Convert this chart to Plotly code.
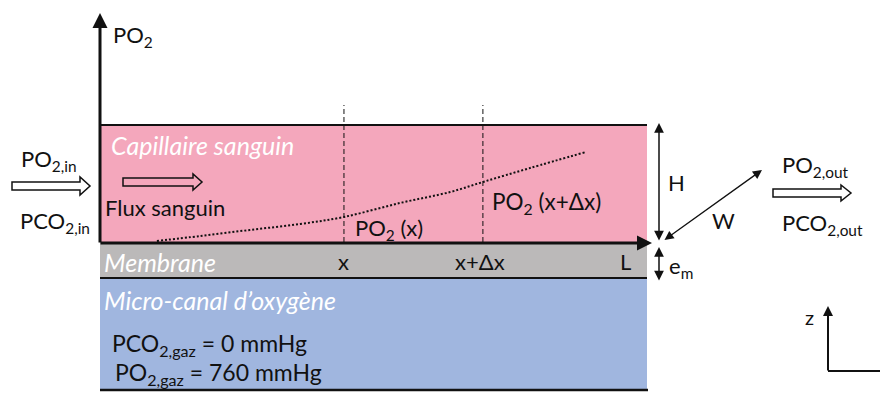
import plotly.graph_objects as go

# ---- data: PO2 profile along the capillary (x/L, PO2 normalised to capillary height H)
pos_frac = [0.104, 0.183, 0.274, 0.366, 0.446, 0.548, 0.640, 0.700, 0.786, 0.888]
po2_norm = [0.009, 0.051, 0.103, 0.154, 0.214, 0.333, 0.427, 0.513, 0.632, 0.769]
marker_pos = [0.446, 0.700]          # x and x+dx
tick_labels = ["x", "x+Δx", "L"]
tick_pos = [0.446, 0.695, 0.961]

PINK = "#F4A7BC"
GRAY = "#BBB9B9"
BLUE = "#A0B6DF"
INK = "#111111"
FONT = "Lato"

# page has an 8px body margin: the figure sits at (8,8) in the 888x394 window
OFF = 8
W, Hh = 888, 394
FW, FH = W - OFF, Hh - OFF
X0, X1 = 100, 647          # channel left / right (px, window coords)
YT, YB = 125, 242          # capillary top / bottom

fig = go.Figure()

fig.add_trace(go.Scatter(x=pos_frac, y=po2_norm, mode="lines", xaxis="x2", yaxis="y2",
                         line=dict(color=INK, width=2, dash="2px,2px", shape="spline"),
                         hoverinfo="skip", showlegend=False))
for p in marker_pos:
    fig.add_trace(go.Scatter(x=[p, p], y=[0, 1.171], mode="lines", xaxis="x2", yaxis="y2",
                             line=dict(color=INK, width=1, dash="5px,3px"),
                             hoverinfo="skip", showlegend=False))

shapes = []
shapes.append(dict(type="rect", xref="x", yref="y", x0=X0, x1=X1, y0=YT, y1=YB,
                   fillcolor=PINK, line=dict(width=0), layer="below"))
shapes.append(dict(type="rect", xref="x", yref="y", x0=X0, x1=X1, y0=YB, y1=278,
                   fillcolor=GRAY, line=dict(width=0), layer="below"))
shapes.append(dict(type="rect", xref="x", yref="y", x0=X0, x1=X1, y0=278, y1=390,
                   fillcolor=BLUE, line=dict(width=0), layer="below"))
shapes.append(dict(type="line", xref="x", yref="y", x0=X0, x1=X1, y0=YT, y1=YT,
                   line=dict(color=INK, width=2)))
shapes.append(dict(type="line", xref="x", yref="y", x0=X0, x1=X1, y0=278, y1=278,
                   line=dict(color=INK, width=2)))
shapes.append(dict(type="line", xref="x", yref="y", x0=X0, x1=X1 + 1, y0=390, y1=390,
                   line=dict(color=INK, width=2.5)))


def block_arrow(x0, x1, yc, shaft=4, head=9, hl=10, fill="white"):
    xh = x1 - hl
    path = (f"M{x0},{yc-shaft} L{xh},{yc-shaft} L{xh},{yc-head} L{x1},{yc} "
            f"L{xh},{yc+head} L{xh},{yc+shaft} L{x0},{yc+shaft} Z")
    return dict(type="path", xref="x", yref="y", path=path, fillcolor=fill,
                line=dict(color=INK, width=1.5))


shapes.append(block_arrow(12, 90, 186))
shapes.append(block_arrow(123, 202, 182, shaft=4, head=8, hl=9, fill="rgba(0,0,0,0)"))
shapes.append(block_arrow(773, 851, 193, shaft=4, head=8, hl=10))
shapes.append(dict(type="line", xref="x", yref="y", x0=828, x1=888, y0=371, y1=371,
                   line=dict(color=INK, width=2)))
shapes.append(dict(type="line", xref="x", yref="y", x0=886.5, x1=886.5, y0=365, y1=377,
                   line=dict(color=INK, width=2)))

ann = []


def arrow(x, y, ax, ay, width=2, head=2, size=1.0, side="end"):
    ann.append(dict(x=x, y=y, ax=ax, ay=ay, xref="x", yref="y", axref="x", ayref="y",
                    text="", showarrow=True, arrowhead=head, arrowsize=size,
                    arrowwidth=width, arrowcolor=INK, arrowside=side,
                    startarrowhead=head, startarrowsize=size, standoff=0, startstandoff=0))


arrow(100, 13, 100, 244, width=3, head=2, size=1.0)
arrow(652, 243, 99, 243, width=3, head=2, size=1.0)
arrow(659, 123, 659, 242, width=1.5, head=2, size=1.3, side="end+start")
arrow(659, 247, 659, 282, width=1.5, head=2, size=1.3, side="end+start")
arrow(762, 170, 663, 241, width=1.3, head=2, size=1.4, side="end+start")
arrow(828, 306, 828, 372, width=2, head=2, size=1.0)


def label(x, y, text, size=22, color=INK, italic=False, xanchor="left", xref="x"):
    t = f"<i>{text}</i>" if italic else text
    ann.append(dict(x=x, y=y, xref=xref, yref="y", text=t, showarrow=False,
                    xanchor=xanchor, yanchor="middle",
                    font=dict(family=FONT, size=size, color=color)))


label(111, 36, "PO<sub>2</sub>")
label(109, 145, "Capillaire sanguin", size=25, color="white", italic=True)
label(103, 207, "Flux sanguin")
label(19, 160, "PO<sub>2,in</sub>")
label(18, 222, "PCO<sub>2,in</sub>")
label(353, 229, "PO<sub>2</sub> (x)")
label(490, 203, "PO<sub>2</sub> (x+Δx)", size=22.5)
for t, p in zip(tick_labels, tick_pos):
    label(p, 261, t, xanchor="center", xref="x2")
label(102, 262, "Membrane", size=25, color="white", italic=True)
label(102, 300, "Micro-canal d’oxygène", size=25, color="white", italic=True)
label(110, 344, "PCO<sub>2,gaz</sub> = 0 mmHg", size=23)
label(113, 373, "PO<sub>2,gaz</sub> = 760 mmHg", size=23)
label(666, 182, "H")
label(667, 267, "e<sub>m</sub>")
label(710, 220, "W")
label(780, 166, "PO<sub>2,out</sub>")
label(780, 224, "PCO<sub>2,out</sub>")
label(803, 317, "z", size=20)

fig.update_layout(
    width=FW, height=FH, margin=dict(l=0, r=0, t=0, b=0, pad=0),
    paper_bgcolor="white", plot_bgcolor="rgba(0,0,0,0)", showlegend=False,
    xaxis=dict(range=[OFF, W], visible=False, domain=[0, 1]),
    yaxis=dict(range=[Hh, OFF], visible=False, domain=[0, 1]),
    xaxis2=dict(range=[0, 1], visible=False,
                domain=[(X0 - OFF) / FW, (X1 - OFF) / FW], anchor="y2"),
    yaxis2=dict(range=[0, 1.171], visible=False,
                domain=[(Hh - YB) / FH, (Hh - 105) / FH], anchor="x2"),
    shapes=shapes, annotations=ann,
)

fig.write_html("out.html")
